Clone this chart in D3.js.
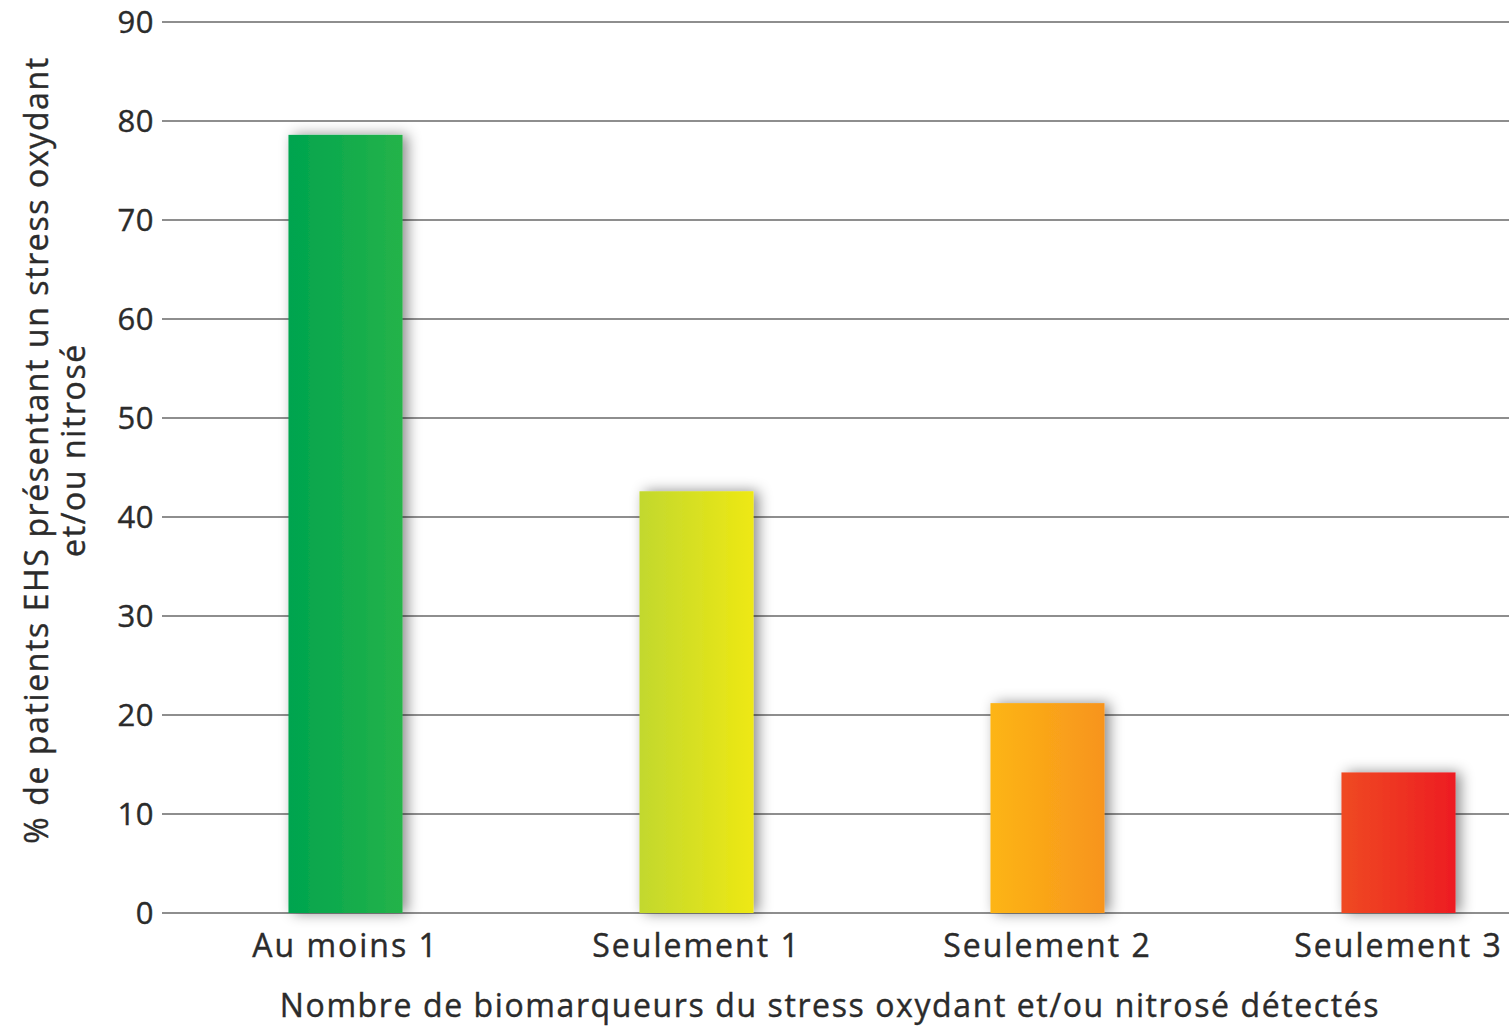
<!DOCTYPE html>
<html lang="fr">
<head>
<meta charset="utf-8">
<script src="https://cdn.jsdelivr.net/npm/d3@7"></script>
<style>
  html, body { margin: 0; padding: 0; background: #fff; }
  svg { display: block; }
  text { font-family: "Open Sans", "Noto Sans", sans-serif; fill: #2b2b2b; stroke: #2b2b2b; stroke-width: 0.4px; }
</style>
</head>
<body>
<svg id="chart" width="1509" height="1028"></svg>
<script>
// Share of EHS patients with oxidative and/or nitrosative stress, by number of biomarkers detected
const categories = ["Au moins 1", "Seulement 1", "Seulement 2", "Seulement 3"];
const values = [78.6, 42.6, 21.2, 14.2];
const yTicks = [0, 10, 20, 30, 40, 50, 60, 70, 80, 90];
const gradientStops = [
  ["#00a44f", "#25b34a"],
  ["#c2d82f", "#eee813"],
  ["#fdb515", "#f7941d"],
  ["#ef4a24", "#ed1c24"]
];
const yTitleLines = ["% de patients EHS présentant un stress oxydant", "et/ou nitrosé"];
const xTitle = "Nombre de biomarqueurs du stress oxydant et/ou nitrosé détectés";

const svg = d3.select("#chart");

const x = d3.scaleBand()
  .domain(categories)
  .range([170, 1574])
  .paddingInner(0.675)
  .paddingOuter(0.3375);

const y = d3.scaleLinear().domain([0, 90]).range([913, 22]);

const defs = svg.append("defs");
gradientStops.forEach((stops, i) => {
  const g = defs.append("linearGradient")
    .attr("id", "bar-grad-" + i)
    .attr("x1", "0%").attr("x2", "100%").attr("y1", "0%").attr("y2", "0%");
  g.append("stop").attr("offset", "0%").attr("stop-color", stops[0]);
  g.append("stop").attr("offset", "100%").attr("stop-color", stops[1]);
});
const shadow = defs.append("filter").attr("id", "bar-shadow")
  .attr("x", "-30%").attr("y", "-30%").attr("width", "170%").attr("height", "160%");
shadow.append("feDropShadow")
  .attr("dx", 5).attr("dy", 0).attr("stdDeviation", 7)
  .attr("flood-color", "#000").attr("flood-opacity", 0.45);

// Horizontal gridlines with labels on the left
const yAxis = d3.axisLeft(y)
  .tickValues(yTicks)
  .tickSize(0)
  .tickPadding(0);
const yg = svg.append("g").attr("transform", "translate(154,0)").call(yAxis);
yg.select(".domain").remove();
yg.selectAll(".tick text")
  .attr("x", 0)
  .attr("dy", "0.34em")
  .style("font-size", "31px")
  .style("letter-spacing", "0.5px")
  .style("fill", "#2b2b2b");

svg.append("g")
  .selectAll("line")
  .data(yTicks)
  .join("line")
  .attr("x1", 162).attr("x2", 1509)
  .attr("y1", d => y(d)).attr("y2", d => y(d))
  .attr("stroke", "#8e8e8e")
  .attr("stroke-width", 2);

// Bars
svg.append("g")
  .selectAll("rect")
  .data(values)
  .join("rect")
  .attr("x", (d, i) => x(categories[i]))
  .attr("y", d => y(d))
  .attr("width", x.bandwidth())
  .attr("height", d => y(0) - y(d))
  .attr("fill", (d, i) => "url(#bar-grad-" + i + ")")
  .attr("filter", "url(#bar-shadow)");

// Category labels
const xAxis = d3.axisBottom(x).tickSize(0).tickPadding(0);
const xg = svg.append("g").attr("transform", "translate(0,934)").call(xAxis);
xg.select(".domain").remove();
xg.selectAll(".tick text")
  .attr("y", 0)
  .attr("dy", "0.71em")
  .style("font-size", "32px")
  .style("letter-spacing", "2px")
  .style("fill", "#2b2b2b");

// Axis titles
svg.append("text")
  .attr("x", 830)
  .attr("y", 1017)
  .attr("text-anchor", "middle")
  .style("font-size", "32px")
  .style("letter-spacing", "1.6px")
  .text(xTitle);

const yt = svg.append("text")
  .attr("transform", "translate(0,450) rotate(-90)")
  .attr("text-anchor", "middle")
  .style("font-size", "32px")
  .style("letter-spacing", "1.6px");
yTitleLines.forEach((line, i) => {
  yt.append("tspan")
    .attr("x", 0)
    .attr("y", 48 + i * 37)
    .text(line);
});
</script>
</body>
</html>
